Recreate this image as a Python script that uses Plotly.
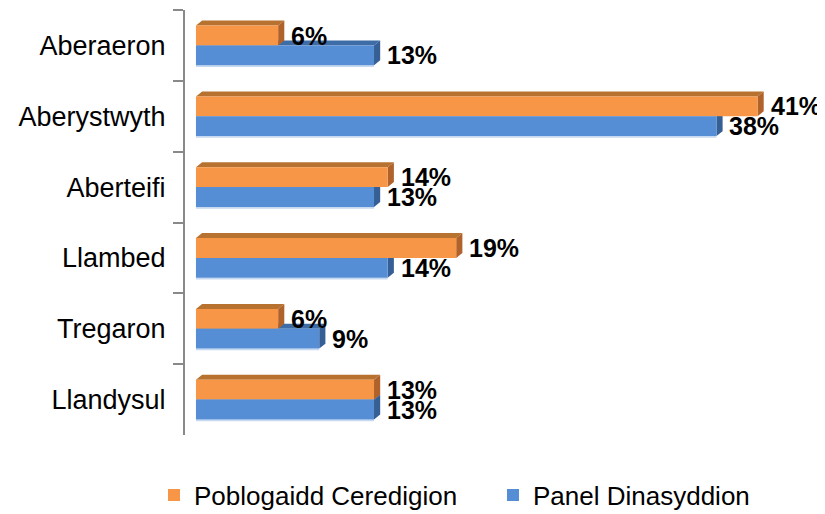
import plotly.graph_objects as go

categories = ["Aberaeron", "Aberystwyth", "Aberteifi", "Llambed", "Tregaron", "Llandysul"]
poblogaidd = [6, 41, 14, 19, 6, 13]
panel = [13, 38, 13, 14, 9, 13]
series_names = ["Poblogaidd Ceredigion", "Panel Dinasyddion"]

ORANGE = "#F79646"
ORANGE_TOP = "#B8722F"
ORANGE_SIDE = "#B0622A"
BLUE = "#558ED5"
BLUE_TOP = "#3E6CA6"
BLUE_SIDE = "#365F96"
BLUE_EDGE = "#C6D9F1"

FONT = "Liberation Sans"
BARGAP = 0.44
W = (1 - BARGAP) / 2
DX = 0.45
DY = 0.07

# page body has an 8px default margin, so the figure is drawn 8px in from the top-left
FIG_W, FIG_H = 817, 506

fig = go.Figure()
fig.add_bar(y=categories, x=poblogaidd, orientation="h", name=series_names[0],
            marker=dict(color=ORANGE, line=dict(width=0)), cliponaxis=False,
            legend="legend")
fig.add_bar(y=categories, x=panel, orientation="h", name=series_names[1],
            marker=dict(color=BLUE, line=dict(width=0)), cliponaxis=False,
            legend="legend2")

shapes = []
annotations = []


def faces(v, top, bottom, ctop, cside):
    out = []
    out.append(dict(type="path", xref="x", yref="y", layer="below",
                    path=f"M 0,{top} L {v},{top} L {v+DX},{top-DY} L {DX},{top-DY} Z",
                    fillcolor=ctop, line=dict(width=0)))
    out.append(dict(type="path", xref="x", yref="y", layer="below",
                    path=f"M {v},{top} L {v+DX},{top-DY} L {v+DX},{bottom-DY} L {v},{bottom} Z",
                    fillcolor=cside, line=dict(width=0)))
    return out


LABEL_FONT = dict(family=FONT, size=25, color="#000000", weight="bold")

for i, (o, b) in enumerate(zip(poblogaidd, panel)):
    # blue (lower bar) first so orange faces overlay it
    shapes += faces(b, i, i + W, BLUE_TOP, BLUE_SIDE)
    shapes.append(dict(type="rect", xref="x", yref="y", layer="below",
                       x0=0, x1=b, y0=i + W, y1=i + W + 0.025,
                       fillcolor=BLUE_EDGE, line=dict(width=0)))
    shapes += faces(o, i - W, i, ORANGE_TOP, ORANGE_SIDE)
    annotations.append(dict(x=o, y=i - W / 2, xref="x", yref="y", text=f"{o}%",
                            showarrow=False, xanchor="left", yanchor="middle",
                            xshift=11, yshift=0, font=LABEL_FONT))
    annotations.append(dict(x=b, y=i + W / 2, xref="x", yref="y", text=f"{b}%",
                            showarrow=False, xanchor="left", yanchor="middle",
                            xshift=11, yshift=0, font=LABEL_FONT))

LEG_FONT = dict(family=FONT, size=26, color="#000000")
fig.update_layout(
    width=FIG_W, height=FIG_H,
    margin=dict(l=177, r=25, t=2, b=79, autoexpand=False),
    paper_bgcolor="white", plot_bgcolor="white",
    barmode="group", bargap=BARGAP, bargroupgap=0,
    shapes=shapes, annotations=annotations,
    font=dict(family=FONT, size=24, color="#000000"),
    showlegend=True,
    legend=dict(orientation="h", xref="container", x=146 / FIG_W, xanchor="left",
                yref="container", y=0.0375, yanchor="middle",
                font=LEG_FONT, itemsizing="constant", bgcolor="rgba(0,0,0,0)"),
    legend2=dict(orientation="h", xref="container", x=485 / FIG_W, xanchor="left",
                 yref="container", y=0.0375, yanchor="middle",
                 font=LEG_FONT, itemsizing="constant", bgcolor="rgba(0,0,0,0)"),
    xaxis=dict(range=[-0.8, 44.1], visible=False, showgrid=False, zeroline=False),
    yaxis=dict(autorange="reversed", showgrid=False, zeroline=False, automargin=False,
               showline=True, linecolor="#898989", linewidth=2,
               ticks="outside", tickson="boundaries", ticklen=10, tickwidth=2,
               tickcolor="#898989", ticklabelstandoff=12,
               tickfont=dict(family=FONT, size=27, color="#000000")),
)

fig.write_html("out.html")
